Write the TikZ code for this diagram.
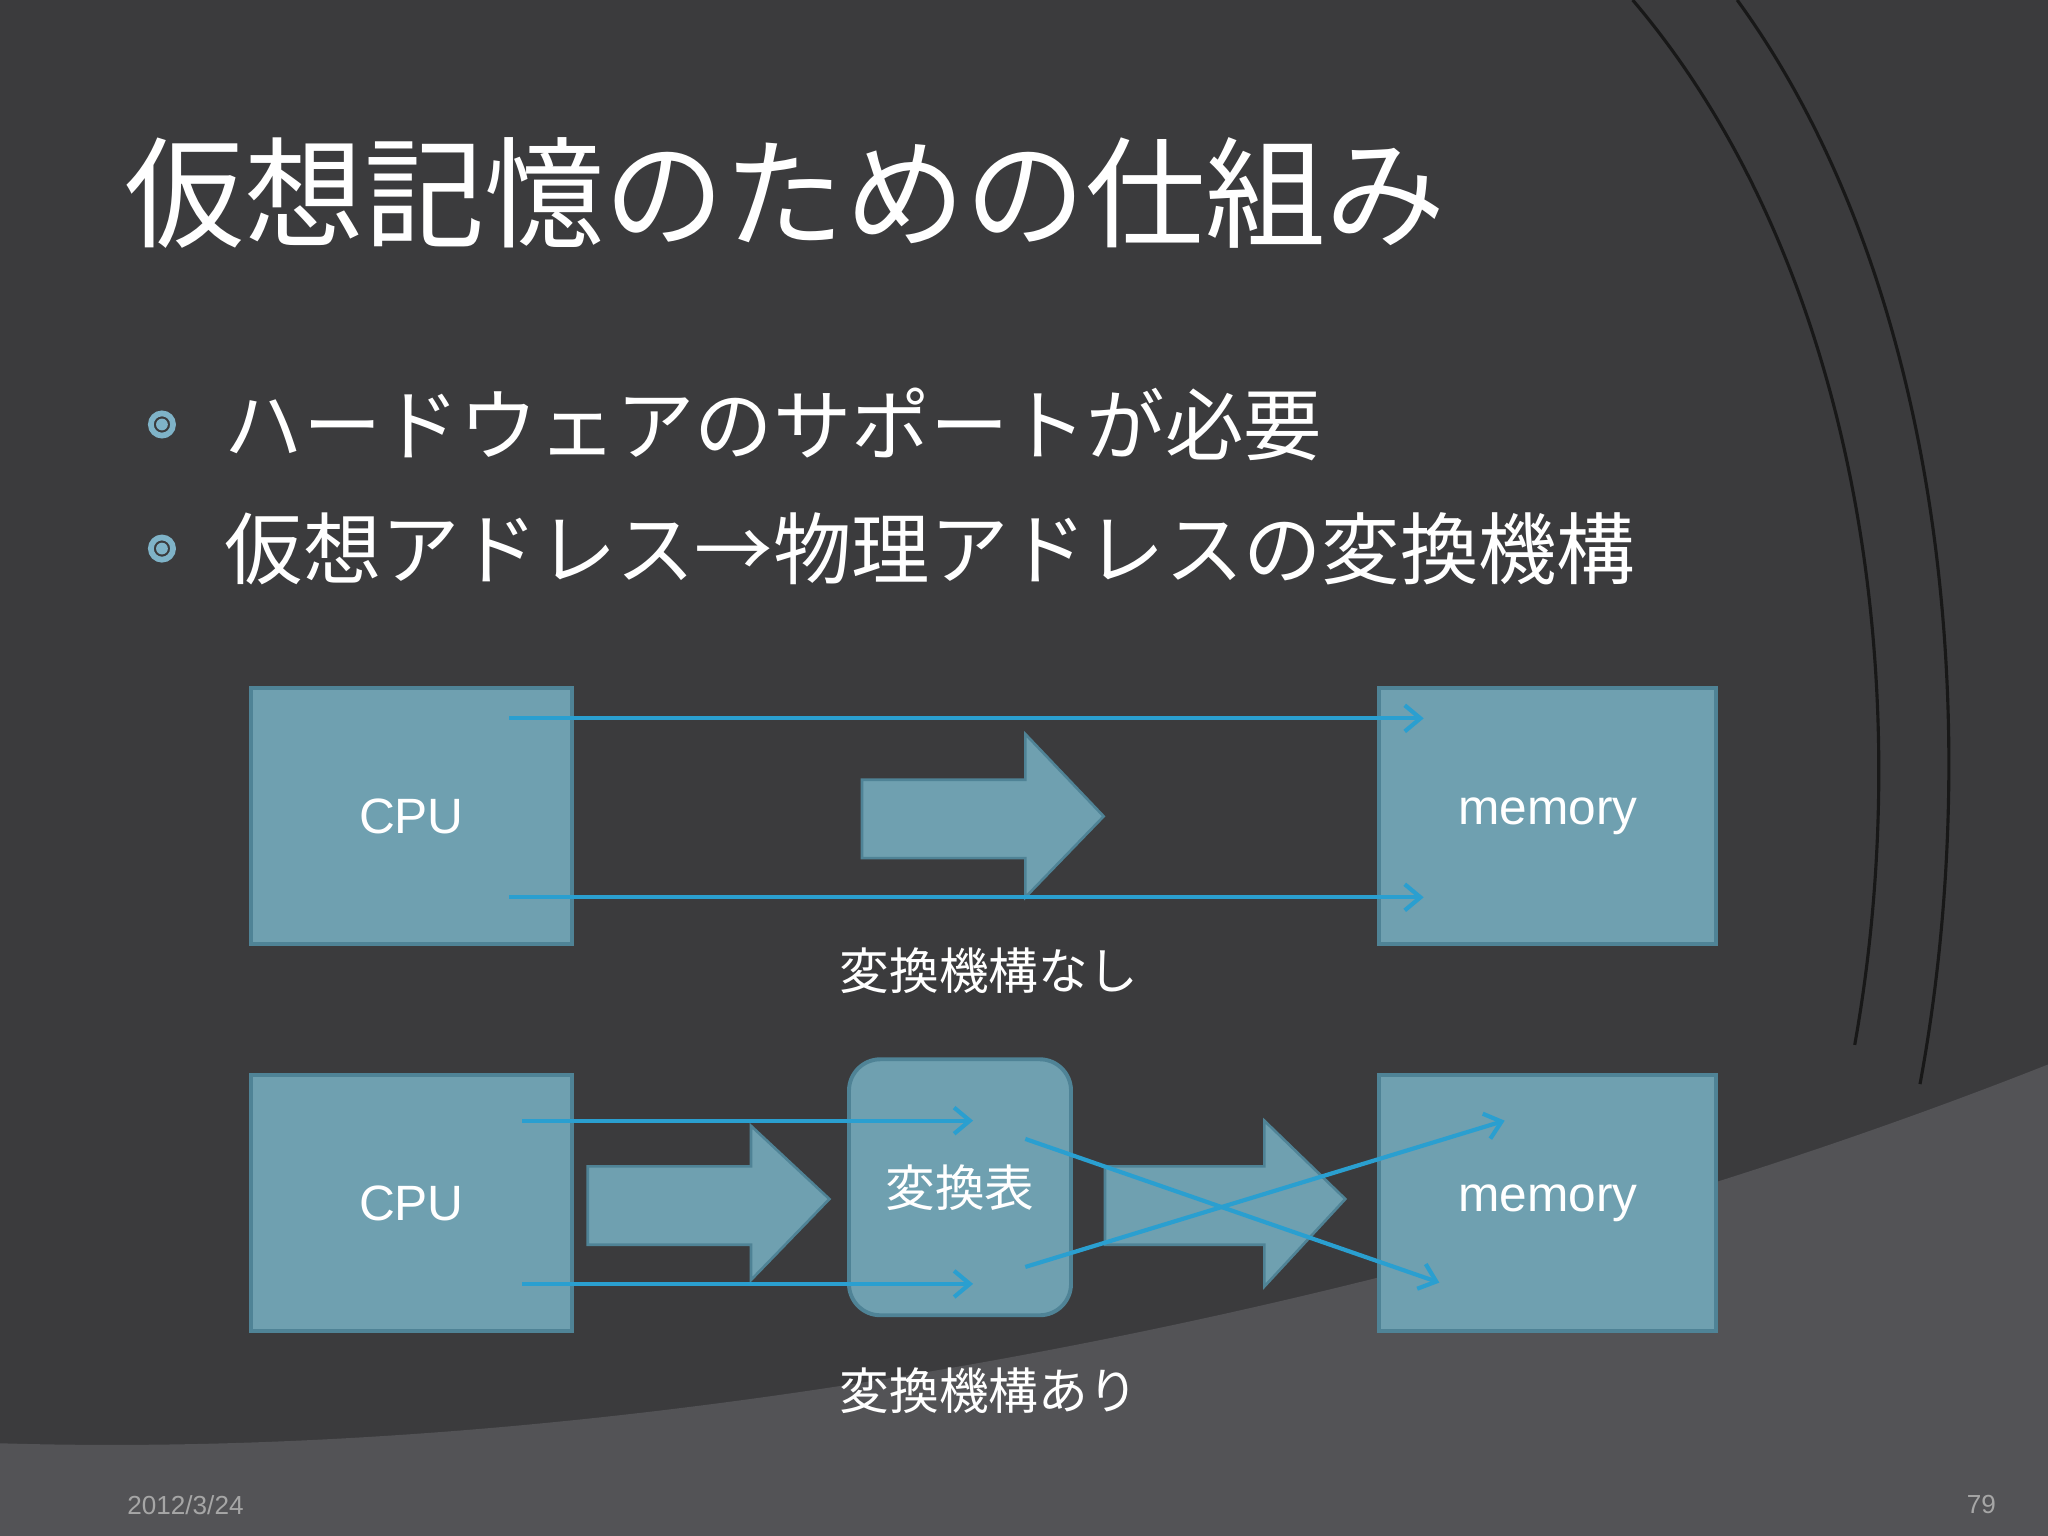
\documentclass[tikz,border=0pt]{standalone}
\usepackage{fontspec}
\setmainfont{Liberation Sans}
\newfontfamily\jp{Noto Sans CJK JP}
\usetikzlibrary{arrows.meta,shapes.arrows}
\definecolor{bg}{HTML}{3B3B3D}
\definecolor{band}{HTML}{535356}
\definecolor{boxc}{HTML}{6FA0B0}
\definecolor{boxl}{HTML}{4F8396}
\definecolor{arr}{HTML}{2A9FD0}
\definecolor{bul}{HTML}{7FB3C8}
\tikzset{
  unit/.style={draw=boxl,line width=1.5pt,fill=boxc,text=white,font=\fontsize{19}{19}\selectfont},
  flow/.style={draw=arr,line width=1.6pt,-{Straight Barb[length=6pt,width=10pt]}},
  fat/.style={draw=boxl,line width=1pt,fill=boxc}
}
\begin{document}
\begin{tikzpicture}[x=0.5pt,y=-0.5pt]
\useasboundingbox (0,0) rectangle (1568,1176);
\fill[bg] (0,0) rectangle (1568,1176);
% background arcs
\draw[black!60!bg,line width=1.2pt] (1250,0) .. controls (1420,200) and (1470,520) .. (1420,800);
\draw[black!60!bg,line width=1.2pt] (1330,0) .. controls (1490,220) and (1520,560) .. (1470,830);
\fill[band] (0,1105) .. controls (500,1120) and (1100,1000) .. (1568,815) -- (1568,1176) -- (0,1176) -- cycle;
% title and bullets
\node[anchor=west,text=white,font=\jp\fontsize{46}{46}\selectfont] (title) at (88,148) {仮想記憶のための仕組み};
\foreach \y/\t [count=\i] in {325/ハードウェアのサポートが必要, 420/仮想アドレス→物理アドレスの変換機構}{
  \draw[bul,line width=2.2pt] (124,\y) circle (8.5);
  \fill[bul] (124,\y) circle (4.5);
  \node[anchor=west,text=white,font=\jp\fontsize{30}{30}\selectfont] (b\i) at (165,\y) {\t};
}
% without translation
\node[unit,minimum width=123pt,minimum height=98pt] (cpu1) at (315,625) {CPU};
\node[unit,minimum width=129pt,minimum height=98pt] (mem1) at (1185,625) {memory};
\coordinate (s1) at (390,550); \coordinate (e1) at (1090,550);
\coordinate (s2) at (390,687); \coordinate (e2) at (1090,687);
\draw[fat] (660,597) -- (785,597) -- (785,562) -- (845,625) -- (785,687) -- (785,657) -- (660,657) -- cycle;
\draw[flow] (s1) -- (e1);
\draw[flow] (s2) -- (e2);
\node[text=white,font=\jp\fontsize{19}{19}\selectfont] (cap1) at (757,743) {変換機構なし};
% with translation
\node[unit,minimum width=123pt,minimum height=98pt] (cpu2) at (315,921) {CPU};
\node[unit,minimum width=129pt,minimum height=98pt] (mem2) at (1185,921) {memory};
\node[unit,rounded corners=12pt,minimum width=85pt,minimum height=98pt,font=\jp\fontsize{19}{19}\selectfont] (tbl) at (735,909) {変換表};
\draw[fat] (450,893) -- (575,893) -- (575,862) -- (635,918) -- (575,980) -- (575,953) -- (450,953) -- cycle;
\draw[fat] (846,893) -- (968,893) -- (968,858) -- (1030,918) -- (968,985) -- (968,953) -- (846,953) -- cycle;
\coordinate (t1) at (400,858); \coordinate (u1) at (745,858);
\coordinate (t2) at (400,983); \coordinate (u2) at (745,983);
\coordinate (x1) at (785,872); \coordinate (y1) at (1102,982);
\coordinate (x2) at (785,970); \coordinate (y2) at (1152,858);
\draw[flow] (t1) -- (u1);
\draw[flow] (t2) -- (u2);
\draw[flow] (x1) -- (y1);
\draw[flow] (x2) -- (y2);
\node[text=white,font=\jp\fontsize{19}{19}\selectfont] (cap2) at (757,1065) {変換機構あり};
% footer
\node[text=gray!70,font=\fontsize{10}{10}\selectfont] (date) at (142,1152) {2012/3/24};
\node[text=gray!70,font=\fontsize{10}{10}\selectfont] (page) at (1517,1152) {79};
\end{tikzpicture}
\end{document}
